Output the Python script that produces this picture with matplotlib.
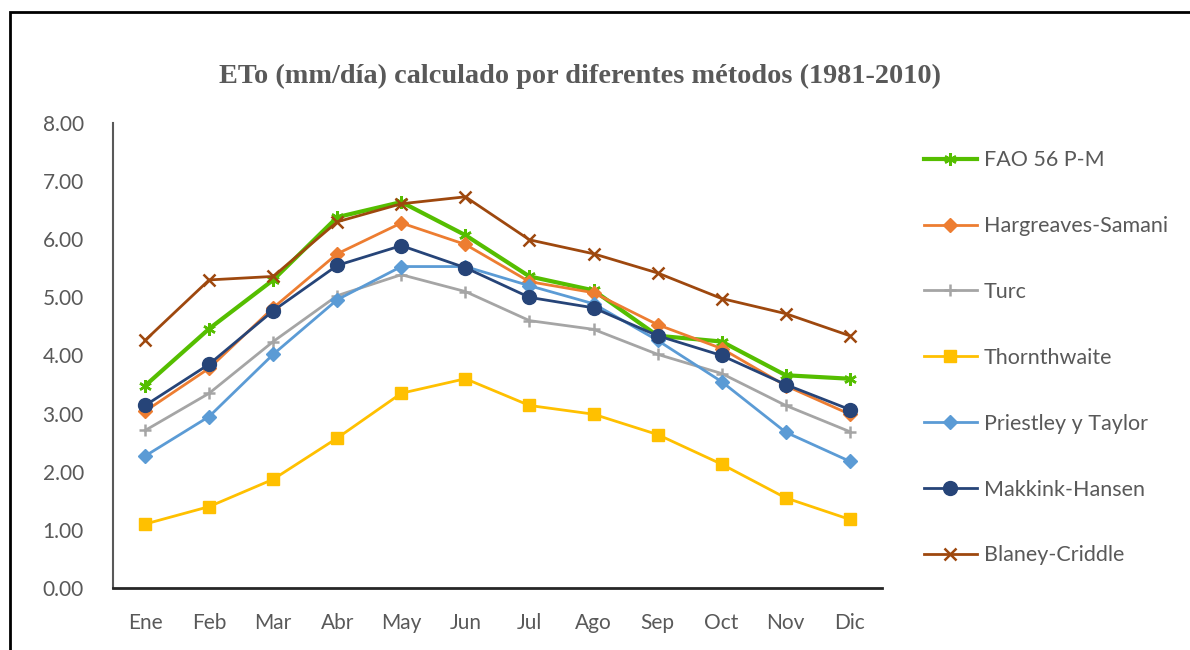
import matplotlib.pyplot as plt
from matplotlib.patches import Rectangle

months = ['Ene', 'Feb', 'Mar', 'Abr', 'May', 'Jun', 'Jul', 'Ago', 'Sep', 'Oct', 'Nov', 'Dic']

fao = [3.48, 4.46, 5.30, 6.38, 6.64, 6.07, 5.36, 5.12, 4.34, 4.24, 3.66, 3.60]
hargreaves = [3.04, 3.78, 4.82, 5.75, 6.28, 5.91, 5.27, 5.08, 4.53, 4.12, 3.48, 2.99]
turc = [2.71, 3.35, 4.24, 5.03, 5.39, 5.10, 4.60, 4.45, 4.02, 3.69, 3.14, 2.69]
thornthwaite = [1.10, 1.40, 1.87, 2.58, 3.35, 3.60, 3.14, 2.99, 2.64, 2.13, 1.55, 1.18]
priestley = [2.27, 2.95, 4.02, 4.96, 5.53, 5.53, 5.20, 4.89, 4.26, 3.55, 2.68, 2.18]
makkink = [3.14, 3.85, 4.77, 5.55, 5.89, 5.51, 5.00, 4.82, 4.34, 4.00, 3.50, 3.07]
blaney = [4.26, 5.30, 5.36, 6.30, 6.61, 6.73, 5.99, 5.75, 5.42, 4.98, 4.72, 4.34]

series = [
    ('FAO 56 P-M', fao, '#55BE00', (6, 2, 0), 3.0, 9),
    ('Hargreaves-Samani', hargreaves, '#ED7D31', 'D', 2.0, 7),
    ('Turc', turc, '#A5A5A5', '+', 2.0, 9),
    ('Thornthwaite', thornthwaite, '#FFC000', 's', 2.0, 8),
    ('Priestley y Taylor', priestley, '#5B9BD5', 'D', 2.0, 7),
    ('Makkink-Hansen', makkink, '#264478', 'o', 2.0, 10),
    ('Blaney-Criddle', blaney, '#9E480E', 'x', 2.0, 9),
]

text_color = '#595959'
plt.rcParams['font.family'] = ['Lato', 'DejaVu Sans']

fig = plt.figure(figsize=(11.9, 6.5), dpi=100)
ax = fig.add_axes([0.095, 0.0954, 0.646, 0.7154])

x = list(range(len(months)))
for label, values, color, marker, lw, ms in series:
    ax.plot(x, values, color=color, marker=marker, lw=lw, ms=ms,
            mew=1.8 if marker in ('x', '+', (6, 2, 0)) else 1,
            mec=color, mfc=color, label=label)

ax.set_xlim(-0.5, 11.5)
ax.set_ylim(0, 8)
ax.set_xticks(x)
ax.set_xticklabels(months)
ax.set_yticks([i for i in range(9)])
ax.set_yticklabels([f'{i:.2f}' for i in range(9)])
ax.tick_params(axis='both', length=0, labelsize=15, colors=text_color)
ax.tick_params(axis='y', pad=21)
ax.tick_params(axis='x', pad=18)

for side in ('top', 'right'):
    ax.spines[side].set_visible(False)
ax.spines['left'].set_color(text_color)
ax.spines['left'].set_linewidth(1.5)
ax.spines['bottom'].set_color('#262626')
ax.spines['bottom'].set_linewidth(2)

fig.text(0.487, 0.883, 'ETo (mm/día) calculado por diferentes métodos (1981-2010)',
         ha='center', va='center', fontsize=20.3, fontweight='bold',
         family='Liberation Serif', color=text_color)

ax.legend(loc='upper left', bbox_to_anchor=(0.769, 0.782), bbox_transform=fig.transFigure,
          frameon=False, fontsize=15.5, handlelength=2.47, handletextpad=0.33,
          labelspacing=2.13, labelcolor=text_color, borderaxespad=0)

# outer chart border
fig.patches.append(Rectangle((10 / 1190, -0.1), 1.2, 1 - 12 / 650 + 0.1,
                             transform=fig.transFigure, fill=False,
                             edgecolor='black', linewidth=2))

fig.savefig('out.png', dpi=100)
